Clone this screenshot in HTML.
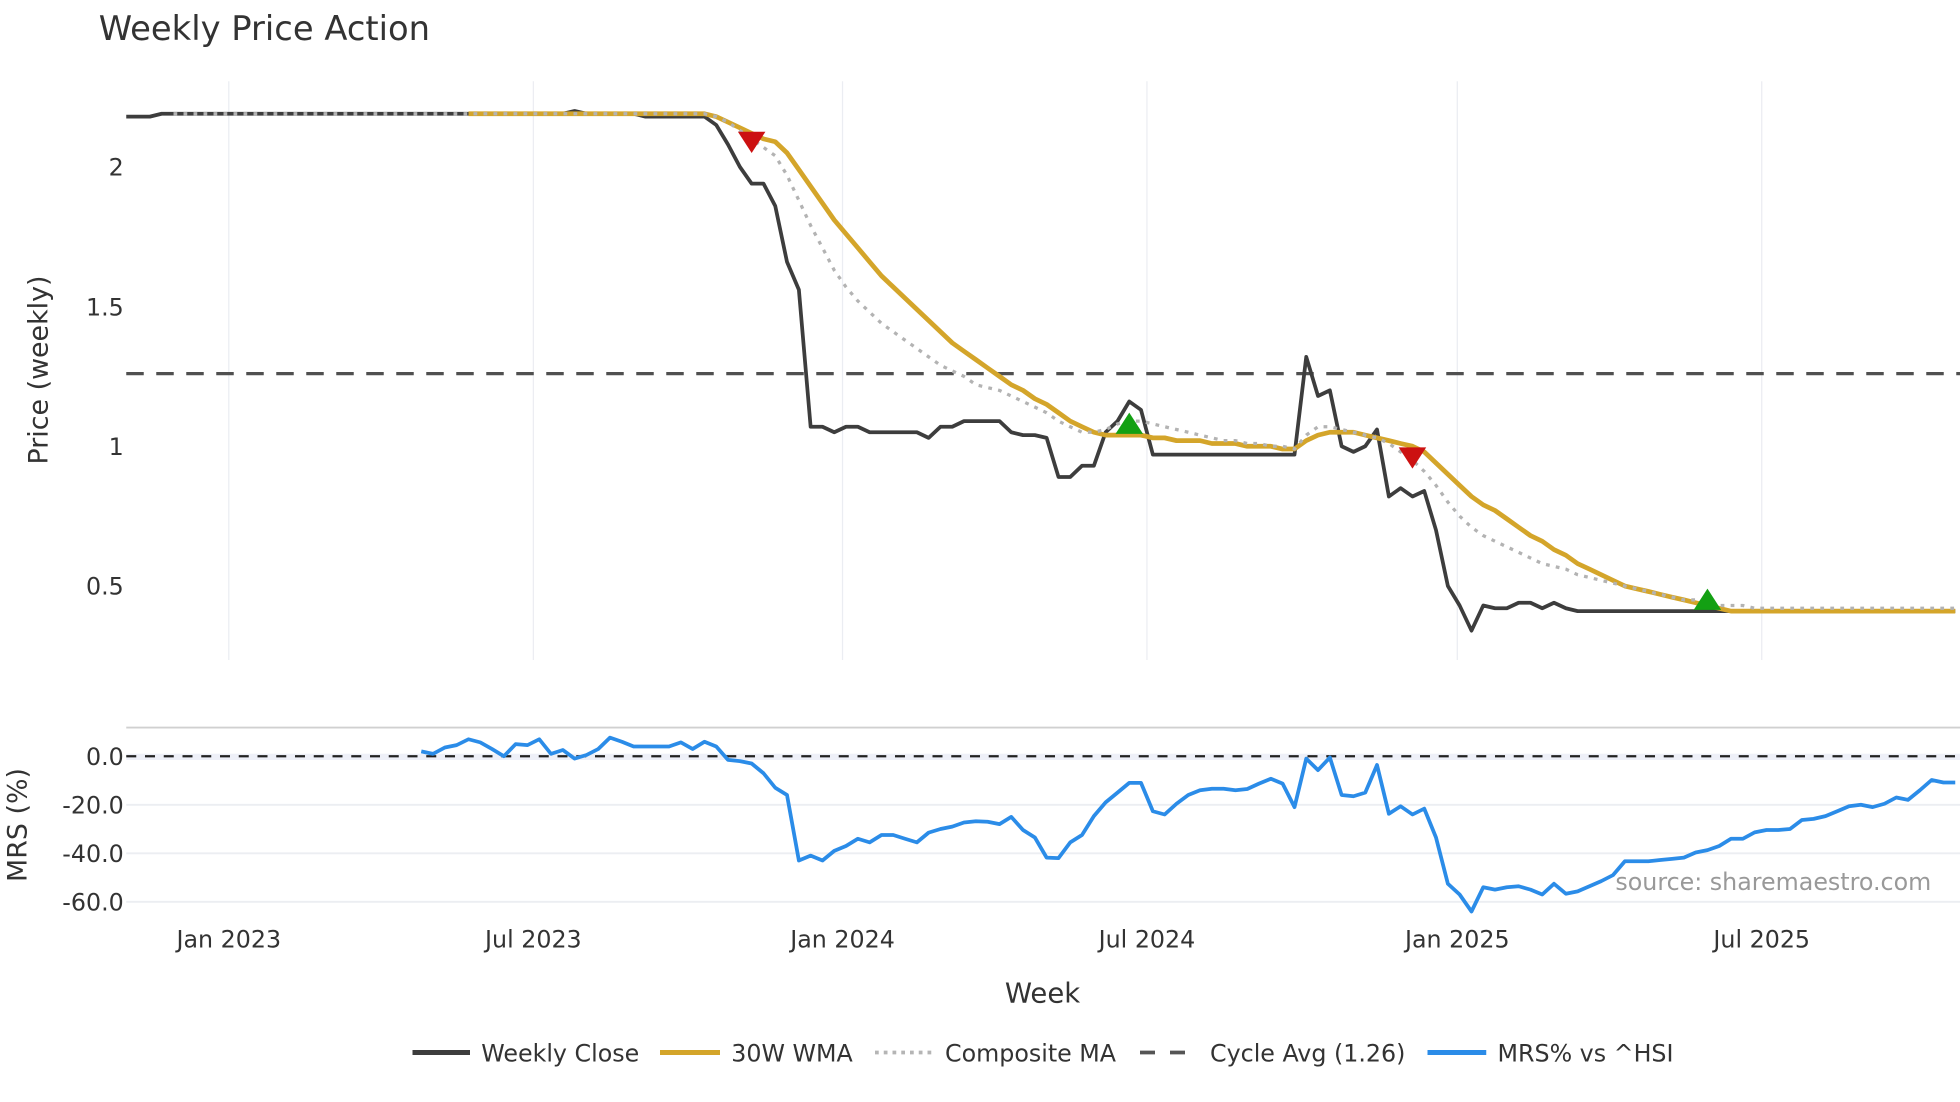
<!DOCTYPE html>
<html><head><meta charset="utf-8"><style>
html,body{margin:0;padding:0;background:#fff}
svg{display:block}
text{font-family:"DejaVu Sans","Liberation Sans",sans-serif;fill:#333}
</style></head><body>
<svg id="chart" width="1960" height="1102" viewBox="0 0 1568 881.6" xmlns="http://www.w3.org/2000/svg">
<text x="79" y="32" font-size="27">Weekly Price Action</text>
<g id="grid"></g>
<g id="price"></g>
<g id="mrs"></g>
<g id="axes"></g>
<text transform="translate(38,296) rotate(-90)" text-anchor="middle" font-size="21.5">Price (weekly)</text>
<text transform="translate(21,660) rotate(-90)" text-anchor="middle" font-size="21.5">MRS (%)</text>
<text x="834" y="802" text-anchor="middle" font-size="22">Week</text>
<text x="1545" y="712" text-anchor="end" font-size="19" style="fill:#999">source: sharemaestro.com</text>
<g>
<g><line x1="330" y1="842" x2="376" y2="842" stroke="#3d3d3d" stroke-width="4"/><text x="385" y="849" font-size="19">Weekly Close</text></g>
<g><line x1="528" y1="842" x2="576" y2="842" stroke="#d4a52a" stroke-width="4"/><text x="585" y="849" font-size="19">30W WMA</text></g>
<g><line x1="700" y1="842" x2="745" y2="842" stroke="#b5b5b5" stroke-width="3" stroke-dasharray="3,4"/><text x="756" y="849" font-size="19">Composite MA</text></g>
<g><line x1="912" y1="842" x2="955" y2="842" stroke="#555" stroke-width="3" stroke-dasharray="12,12"/><text x="968" y="849" font-size="19">Cycle Avg (1.26)</text></g>
<g><line x1="1142" y1="842" x2="1189" y2="842" stroke="#2b8ce8" stroke-width="4"/><text x="1198" y="849" font-size="19">MRS% vs ^HSI</text></g>
</g>
</svg>
<script>
const closeVals=[2.18,2.18,2.18,
2.19,2.19,2.19,2.19,2.19,2.19,2.19,2.19,2.19,2.19,2.19,2.19,2.19,2.19,2.19,2.19,2.19,2.19,2.19,2.19,2.19,2.19,2.19,2.19,2.19,2.19,2.19,2.19,2.19,2.19,2.19,2.19,2.19,2.19,2.19,
2.20,2.19,2.19,2.19,2.19,2.19,
2.18,2.18,2.18,2.18,2.18,2.18,
2.15,2.08,2.0,1.94,1.94,1.86,1.66,1.56,
1.07,1.07,1.05,1.07,1.07,1.05,1.05,1.05,1.05,1.05,1.03,
1.07,1.07,1.09,1.09,1.09,1.09,1.05,1.04,1.04,1.03,
0.89,0.89,0.93,0.93,1.05,1.09,1.16,1.13,
0.97,0.97,0.97,0.97,0.97,0.97,0.97,0.97,0.97,0.97,0.97,0.97,0.97,
1.32,1.18,1.2,1.0,0.98,1.0,1.06,
0.82,0.85,0.82,0.84,0.70,0.50,0.43,0.34,
0.43,0.42,0.42,0.44,0.44,0.42,0.44,0.42,
0.41,0.41,0.41,0.41,0.41,0.41,0.41,0.41,0.41,0.41,0.41,0.41,0.41,0.41,0.41,0.41,0.41,0.41,0.41,0.41,0.41,0.41,0.41,0.41,0.41,0.41,0.41,0.41,0.41,0.41,0.41,0.41,0.41];
const wmaVals=[null,null,null,null,null,null,null,null,null,null,null,null,null,null,null,null,null,null,null,null,null,null,null,null,null,null,null,null,null,
2.19,2.19,2.19,2.19,2.19,2.19,2.19,2.19,2.19,2.19,2.19,2.19,2.19,2.19,2.19,2.19,2.19,2.19,2.19,2.19,2.19,
2.18,2.16,2.14,2.12,2.10,2.09,2.05,1.99,1.93,1.87,
1.81,1.76,1.71,1.66,1.61,1.57,1.53,1.49,1.45,1.41,
1.37,1.34,1.31,1.28,1.25,1.22,1.20,1.17,1.15,1.12,
1.09,1.07,1.05,1.04,1.04,1.04,1.04,1.03,1.03,1.02,
1.02,1.02,1.01,1.01,1.01,1.0,1.0,1.0,0.99,0.99,
1.02,1.04,1.05,1.05,1.05,1.04,1.03,1.02,1.01,1.0,
0.98,0.94,0.90,0.86,0.82,0.79,0.77,0.74,0.71,0.68,
0.66,0.63,0.61,0.58,0.56,0.54,0.52,0.50,0.49,0.48,
0.47,0.46,0.45,0.44,0.43,0.42,0.41,0.41,0.41,0.41,
0.41,0.41,0.41,0.41,0.41,0.41,0.41,0.41,0.41,0.41,0.41,0.41,0.41,0.41,0.41,0.41];
const compVals=[null,null,null,null,
2.19,2.19,2.19,2.19,2.19,2.19,2.19,2.19,2.19,2.19,2.19,2.19,2.19,2.19,2.19,2.19,2.19,2.19,2.19,2.19,2.19,2.19,2.19,2.19,2.19,2.19,2.19,2.19,2.19,2.19,2.19,2.19,2.19,2.19,2.19,2.19,2.19,2.19,2.19,2.19,2.19,2.19,2.19,2.19,2.19,2.19,
2.18,2.16,2.13,2.10,2.07,2.04,1.97,1.88,1.79,1.71,
1.63,1.57,1.52,1.48,1.44,1.41,1.38,1.35,1.32,1.29,
1.27,1.25,1.22,1.21,1.20,1.18,1.16,1.14,1.12,1.09,
1.07,1.05,1.05,1.06,1.08,1.09,1.09,1.08,1.07,1.06,
1.05,1.04,1.03,1.02,1.02,1.01,1.01,1.0,1.0,0.99,
1.04,1.07,1.07,1.06,1.05,1.04,1.03,1.01,0.98,0.95,
0.91,0.86,0.80,0.75,0.71,0.68,0.66,0.64,0.62,0.60,
0.58,0.57,0.56,0.54,0.53,0.52,0.51,0.50,0.49,0.48,
0.47,0.46,0.45,0.45,0.44,0.43,0.43,0.43,0.42,0.42,
0.42,0.42,0.42,0.42,0.42,0.42,0.42,0.42,0.42,0.42,0.42,0.42,0.42,0.42,0.42,0.42];
const mrsStart=25;
const mrsVals=[2,1,3.6,4.6,7,5.7,3,0,5,4.6,
7,1,2.6,-1,0.5,3,7.7,6,4,
4,4,4,
5.7,3,6,4,-1.5,-2,-3,-7,-13,-16,
-43,-41,-43,-39,-37,-34,-35.5,-32.5,-32.5,-34,-35.5,
-31.5,-30,-29,-27.3,-26.8,-27,-28,-25,-30.4,-33.5,-41.8,
-42,-35.5,-32.5,-24.7,-19,-15,-11,-11,-22.7,-24,-19.6,
-16,-14,-13.4,-13.4,-14,-13.5,-11.3,-9.3,-11.3,-21,-1,
-5.7,-0.5,-16,-16.5,-15,-3.6,-23.7,-20.6,-24,-21.6,-33.5,
-52.6,-57,-64,-54,-55,-54,-53.6,-55,-57,-52.6,-56.7,
-55.7,-53.6,-51.5,-49,-43.3,-43.3,-43.3,-42.8,-42.3,-41.8,-39.7,
-38.7,-37,-34,-34,-31.4,-30.4,-30.4,-30,-26.3,-25.8,
-24.7,-22.7,-20.6,-20,-21,-19.6,-17,-18,-14,-9.8,-10.8,-10.8];
const sellIdx=[53,109];
const sellVals=[2.09,0.96];
const buyIdx=[85,134];
const buyVals=[1.08,0.45];
const cycleAvg=1.26;
const priceTicks=[2,1.5,1,0.5];
const mrsTicks=[0,-20,-40,-60];
const dateLabels=["Jan 2023","Jul 2023","Jan 2024","Jul 2024","Jan 2025","Jul 2025"];
const dateWeeks=[8.69,34.5,60.7,86.5,112.8,138.6];

const NS="http://www.w3.org/2000/svg";
const X0=101,STEP=9.44;
const xS=i=>X0+i*STEP;
const yP=v=>357-(v-1)*223.5;
const yM=v=>605-v*1.94;
function mk(tag,attrs,parent){const e=document.createElementNS(NS,tag);for(const k in attrs)e.setAttribute(k,attrs[k]);parent.appendChild(e);return e;}
const grid=document.getElementById('grid'),price=document.getElementById('price'),mrs=document.getElementById('mrs'),axes=document.getElementById('axes');

dateWeeks.forEach((w,k)=>{
  const x=xS(w);
  const g1=mk('line',{x1:x,x2:x,y1:65,y2:528,stroke:'#ebedf2','stroke-width':1},grid);
  
  
  const t=mk('text',{x:x,y:758,'text-anchor':'middle','font-size':19},axes);
  t.textContent=dateLabels[k];
  
  
});
priceTicks.forEach(v=>{
  const t=mk('text',{x:99,y:yP(v)+7,'text-anchor':'end','font-size':19},axes);
  t.textContent=String(v);
  
  
});
const sep=mk('line',{x1:101,x2:1568,y1:582,y2:582,stroke:'#d0d0d0','stroke-width':1.5},grid);


mrsTicks.forEach(v=>{
  if(v!==0){const l=mk('line',{x1:101,x2:1568,y1:yM(v),y2:yM(v),stroke:'#eceef2','stroke-width':1.5},grid);
  
  }
  const t=mk('text',{x:99,y:yM(v)+7,'text-anchor':'end','font-size':19},axes);
  t.textContent=v.toFixed(1);
  
  
});
const band=mk('rect',{x:101,y:yM(0)-2,width:1467,height:5,fill:'#eef0f8'},grid);


const zl=mk('line',{x1:101,x2:1568,y1:yM(0),y2:yM(0),stroke:'#222','stroke-width':1.8,'stroke-dasharray':'8,7'},mrs);



function path(vals,start,xf,yf){let d='',pen=false;vals.forEach((v,k)=>{if(v===null){pen=false;return;}d+=(pen?'L':'M')+xf(start+k).toFixed(1)+','+yf(v).toFixed(1);pen=true;});return d;}
const ca=mk('line',{x1:101,x2:1568,y1:yP(cycleAvg),y2:yP(cycleAvg),stroke:'#505050','stroke-width':2.6,'stroke-dasharray':'14,10'},price);


const pc=mk('path',{d:path(closeVals,0,xS,yP),fill:'none',stroke:'#3d3d3d','stroke-width':3,'stroke-linejoin':'round'},price);


const pw=mk('path',{d:path(wmaVals,0,xS,yP),fill:'none',stroke:'#d4a52a','stroke-width':3.8,'stroke-linejoin':'round'},price);


const pm=mk('path',{d:path(compVals,0,xS,yP),fill:'none',stroke:'#b3b3b3','stroke-width':2.6,'stroke-dasharray':'3,5'},price);


sellIdx.forEach((i,k)=>{const x=xS(i),y=yP(sellVals[k]);
  const p=mk('polygon',{points:`${x-11},${y-8} ${x+11},${y-8} ${x},${y+9}`,fill:'#cc1111'},price);
  
  });
buyIdx.forEach((i,k)=>{const x=xS(i),y=yP(buyVals[k]);
  const p=mk('polygon',{points:`${x-11},${y+8} ${x+11},${y+8} ${x},${y-9}`,fill:'#13a013'},price);
  
  });
const mp=mk('path',{d:path(mrsVals,mrsStart,xS,yM),fill:'none',stroke:'#2b8ce8','stroke-width':3,'stroke-linejoin':'round'},mrs);


</script>
</body></html>
